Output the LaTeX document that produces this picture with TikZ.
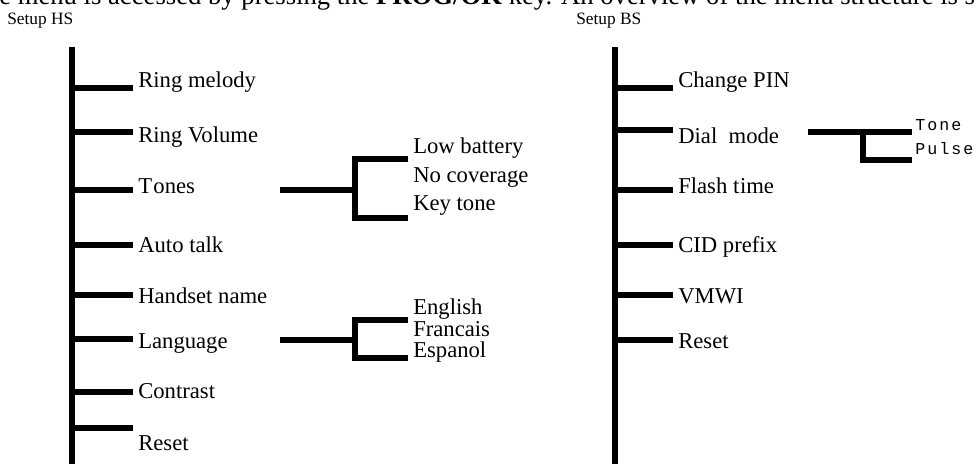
\documentclass[tikz,border=0pt]{standalone}
\usepackage{fontspec}
\setmainfont{Liberation Serif}
\newfontfamily\dialfont{Liberation Mono}[LetterSpace=12]
\usetikzlibrary{positioning}

\tikzset{
  menuitem/.style={anchor=base west, inner sep=0pt, font=\fontsize{17}{20}\selectfont},
  subitem/.style={menuitem},
  heading/.style={anchor=base west, inner sep=0pt, font=\fontsize{13}{15}\selectfont},
  trunk/.style={line width=3.8pt},
  branch/.style={line width=3.8pt, line join=miter}
}

\begin{document}
\begin{tikzpicture}[x=0.75pt, y=-0.75pt]
\useasboundingbox (0,0) rectangle (976,464);
\clip (0,0) rectangle (976,464);

\node[anchor=base west, inner sep=0pt, font=\fontsize{20}{22}\selectfont] (intro) at (-1,4)
  {e menu is accessed by pressing the \textbf{PROG/OK} key. An overview of the menu structure is s};

\node[heading] (hs) at (7,24) {Setup HS};
\node[heading] (bs) at (576,24) {Setup BS};

% handset menu
\coordinate (hstop) at (72,47);
\coordinate (hsbot) at (72,470);
\draw[trunk] (hstop) -- (hsbot);

\coordinate (c-ring) at (133,88);
\coordinate (c-vol) at (133,132);
\coordinate (c-tones) at (133,190);
\coordinate (c-auto) at (133,245);
\coordinate (c-name) at (133,295);
\coordinate (c-lang) at (133,339);
\coordinate (c-contr) at (133,392);
\coordinate (c-reset) at (133,428);

\node[menuitem] (ring) at (138,87) {Ring melody};
\node[menuitem] (vol) at (138,142) {Ring Volume};
\node[menuitem] (tones) at (138,193) {T\kern1pt ones};
\node[menuitem] (auto) at (138,252) {Auto talk};
\node[menuitem] (name) at (138,303) {Handset name};
\node[menuitem] (lang) at (138,348) {Language};
\node[menuitem] (contr) at (138,398) {Contrast};
\node[menuitem] (reset) at (138,450) {Reset};

\foreach \c in {ring,vol,tones,auto,name,lang,contr,reset}
  \draw[branch] (hstop |- c-\c) -- (c-\c);

% tones submenu
\coordinate (t-in) at (280,190);
\coordinate (t-fork) at (355,190);
\coordinate (t-up) at (408,159);
\coordinate (t-down) at (408,218);
\node[subitem] (lowbat) at (413,153) {Low battery};
\node[subitem] (nocov) at (413,182) {No coverage};
\node[subitem] (keytone) at (413,210) {Key tone};
\draw[branch] (t-in) -- (t-fork);
\draw[branch] (t-up) -- (t-fork |- t-up) -- (t-fork |- t-down) -- (t-down);

% language submenu
\coordinate (l-in) at (280,340);
\coordinate (l-fork) at (355,340);
\coordinate (l-up) at (408,320);
\coordinate (l-down) at (408,358);
\node[subitem] (english) at (413,314) {English};
\node[subitem] (francais) at (413,336) {Francais};
\node[subitem] (espanol) at (413,357) {Espanol};
\draw[branch] (l-in) -- (l-fork);
\draw[branch] (l-up) -- (l-fork |- l-up) -- (l-fork |- l-down) -- (l-down);

% base station menu
\coordinate (bstop) at (615,47);
\coordinate (bsbot) at (615,470);
\draw[trunk] (bstop) -- (bsbot);

\coordinate (c-pin) at (673,88);
\coordinate (c-dial) at (673,130);
\coordinate (c-flash) at (673,190);
\coordinate (c-cid) at (673,245);
\coordinate (c-vmwi) at (673,295);
\coordinate (c-bsreset) at (673,340);

\node[menuitem] (pin) at (678,87) {Change PIN};
\node[menuitem] (dial) at (678,143) {Dial\ \ mode};
\node[menuitem] (flash) at (678,193) {Flash t\kern0.5pt ime};
\node[menuitem] (cid) at (678,252) {CID prefix};
\node[menuitem] (vmwi) at (678,303) {VMWI};
\node[menuitem] (bsreset) at (678,348) {Reset};

\foreach \c in {pin,dial,flash,cid,vmwi,bsreset}
  \draw[branch] (bstop |- c-\c) -- (c-\c);

% dial mode submenu
\coordinate (d-in) at (808,132);
\coordinate (d-fork) at (863,132);
\coordinate (d-tone) at (912,132);
\coordinate (d-pulse) at (912,160);
\node[anchor=base west, inner sep=0pt, font=\dialfont\fontsize{12.5}{14}\selectfont] (tone) at (915,130) {Tone};
\node[anchor=base west, inner sep=0pt, font=\dialfont\fontsize{12.5}{14}\selectfont] (pulse) at (915,154) {Pulse};
\draw[branch] (d-in) -- (d-tone);
\draw[branch] (d-fork) -- (d-fork |- d-pulse) -- (d-pulse);
\end{tikzpicture}
\end{document}
